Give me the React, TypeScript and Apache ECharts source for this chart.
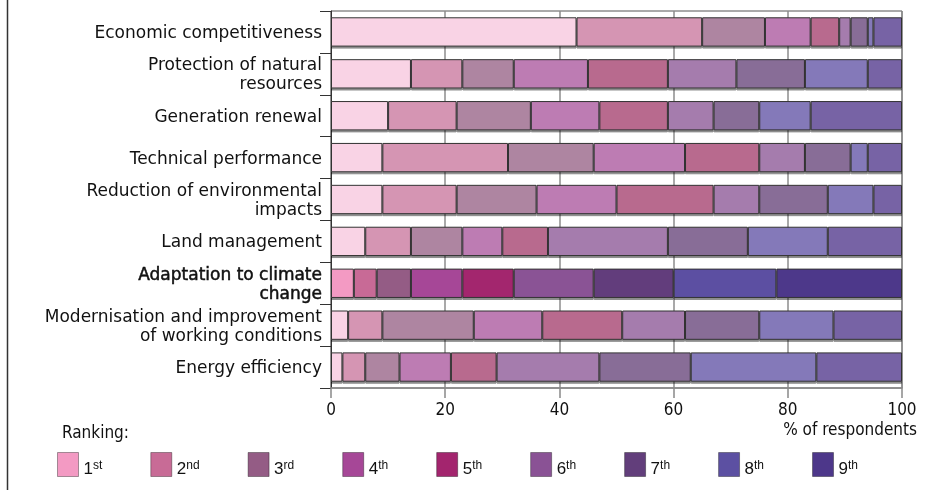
import React, { useEffect, useRef } from "react";
import * as echarts from "echarts";

const categories = [
  "Economic competitiveness",
  "Protection of natural\nresources",
  "Generation renewal",
  "Technical performance",
  "Reduction of environmental\nimpacts",
  "Land management",
  "Adaptation to climate\nchange",
  "Modernisation and improvement\nof working conditions",
  "Energy efficiency",
];
const highlighted = "Adaptation to climate\nchange";

const rankNames = ["1st", "2nd", "3rd", "4th", "5th", "6th", "7th", "8th", "9th"];

// % of respondents per ranking (1st..9th) for each category
const economic = [43, 22, 11, 8, 5, 2, 3, 1, 5];
const protection = [14, 9, 9, 13, 14, 12, 12, 11, 6];
const generation = [10, 12, 13, 12, 12, 8, 8, 9, 16];
const technical = [9, 22, 15, 16, 13, 8, 8, 3, 6];
const reduction = [9, 13, 14, 14, 17, 8, 12, 8, 5];
const land = [6, 8, 9, 7, 8, 21, 14, 14, 13];
const adaptation = [4, 4, 6, 9, 9, 14, 14, 18, 22];
const modernisation = [3, 6, 16, 12, 14, 11, 13, 13, 12];
const energy = [2, 4, 6, 9, 8, 18, 16, 22, 15];

const rows = [economic, protection, generation, technical, reduction, land, adaptation, modernisation, energy];

const strongColors = ["#f39ac3", "#c86b96", "#945c85", "#a64797", "#a3256e", "#8a5295", "#623e7b", "#5c50a2", "#4d378a"];
const lightColors = ["#f9d3e5", "#d595b3", "#ae85a1", "#bd7bb3", "#b86a8e", "#a57cad", "#886d97", "#8479b9", "#7764a5"];

const xTicks = [0, 20, 40, 60, 80, 100];

export default function App() {
  const ref = useRef<HTMLDivElement>(null);
  useEffect(() => {
    if (!ref.current) return;
    const chart = echarts.init(ref.current, null, { renderer: "svg" });
    const condensed = "'DejaVu Sans Condensed', 'Liberation Sans Narrow', 'DejaVu Sans', sans-serif";
    const series = rankNames.map((name, i) => ({
      name,
      type: "bar",
      stack: "total",
      barWidth: "70%",
      itemStyle: { color: strongColors[i], borderColor: "#333", borderWidth: 1 },
      data: rows.map((r, ci) => ({
        value: r[i],
        itemStyle: {
          color: categories[ci] === highlighted ? strongColors[i] : lightColors[i],
          borderColor: "#333",
          borderWidth: 1,
          shadowColor: "rgba(0,0,0,0.45)",
          shadowOffsetY: 2,
          shadowBlur: 0,
        },
      })),
    }));
    chart.setOption({
      animation: false,
      grid: {
        left: 331,
        right: 40,
        top: 11,
        bottom: 102,
        show: true,
        borderColor: "#555",
        borderWidth: 1,
        backgroundColor: "transparent",
      },
      legend: {
        data: rankNames,
        left: 52,
        top: 447,
        icon: "rect",
        itemWidth: 21,
        itemHeight: 24,
        itemGap: 48,
        selectedMode: false,
        itemStyle: { borderColor: "rgba(0,0,0,0.35)", borderWidth: 1 },
        formatter: (name: string) => `{n|${name.slice(0, 1)}}{s|${name.slice(1)}}`,
        textStyle: {
          padding: [8, 0, 0, 0],
          rich: {
            n: { fontSize: 17, fontFamily: "'Liberation Sans', Arial, sans-serif", color: "#111", lineHeight: 20 },
            s: { fontSize: 12, fontFamily: "'Liberation Sans', Arial, sans-serif", color: "#111", verticalAlign: "top", lineHeight: 20, padding: [0, 0, 6, 0] },
          },
        },
      },
      xAxis: {
        type: "value",
        min: xTicks[0],
        max: xTicks[xTicks.length - 1],
        interval: 20,
        axisLine: { show: true, lineStyle: { color: "#888", width: 1.5 } },
        axisTick: { show: true, length: 10, lineStyle: { color: "#888", width: 1.5 } },
        splitLine: { show: true, lineStyle: { color: "#8c8c8c", width: 1.5 } },
        axisLabel: { margin: 12, fontSize: 17, color: "#111", fontFamily: condensed },
      },
      yAxis: {
        type: "category",
        inverse: true,
        data: categories.map((c) =>
          c === highlighted
            ? { value: c, textStyle: { textBorderColor: "#111", textBorderWidth: 0.5 } }
            : c
        ),
        axisLine: { show: true, lineStyle: { color: "#333", width: 1 } },
        axisTick: { show: true, length: 11, lineStyle: { color: "#333", width: 1 } },
        axisLabel: {
          margin: 9,
          fontSize: 17,
          lineHeight: 19,
          color: "#111",
          fontFamily: "'DejaVu Sans', sans-serif",
          align: "right",
        },
      },
      graphic: [
        { type: "line", shape: { x1: 7.5, y1: 0, x2: 7.5, y2: 490 }, style: { stroke: "#333", lineWidth: 1.5 } },
        {
          type: "text",
          left: 62,
          top: 423,
          style: { text: "Ranking:", fontSize: 17, fill: "#111", fontFamily: condensed },
        },
        {
          type: "text",
          right: 25,
          top: 420,
          style: { text: "% of respondents", fontSize: 17, fill: "#111", fontFamily: condensed },
        },
      ],
      series,
    });
    return () => chart.dispose();
  }, []);
  return <div ref={ref} style={{ position: "fixed", left: 0, top: 0, width: 942, height: 490 }} />;
}
